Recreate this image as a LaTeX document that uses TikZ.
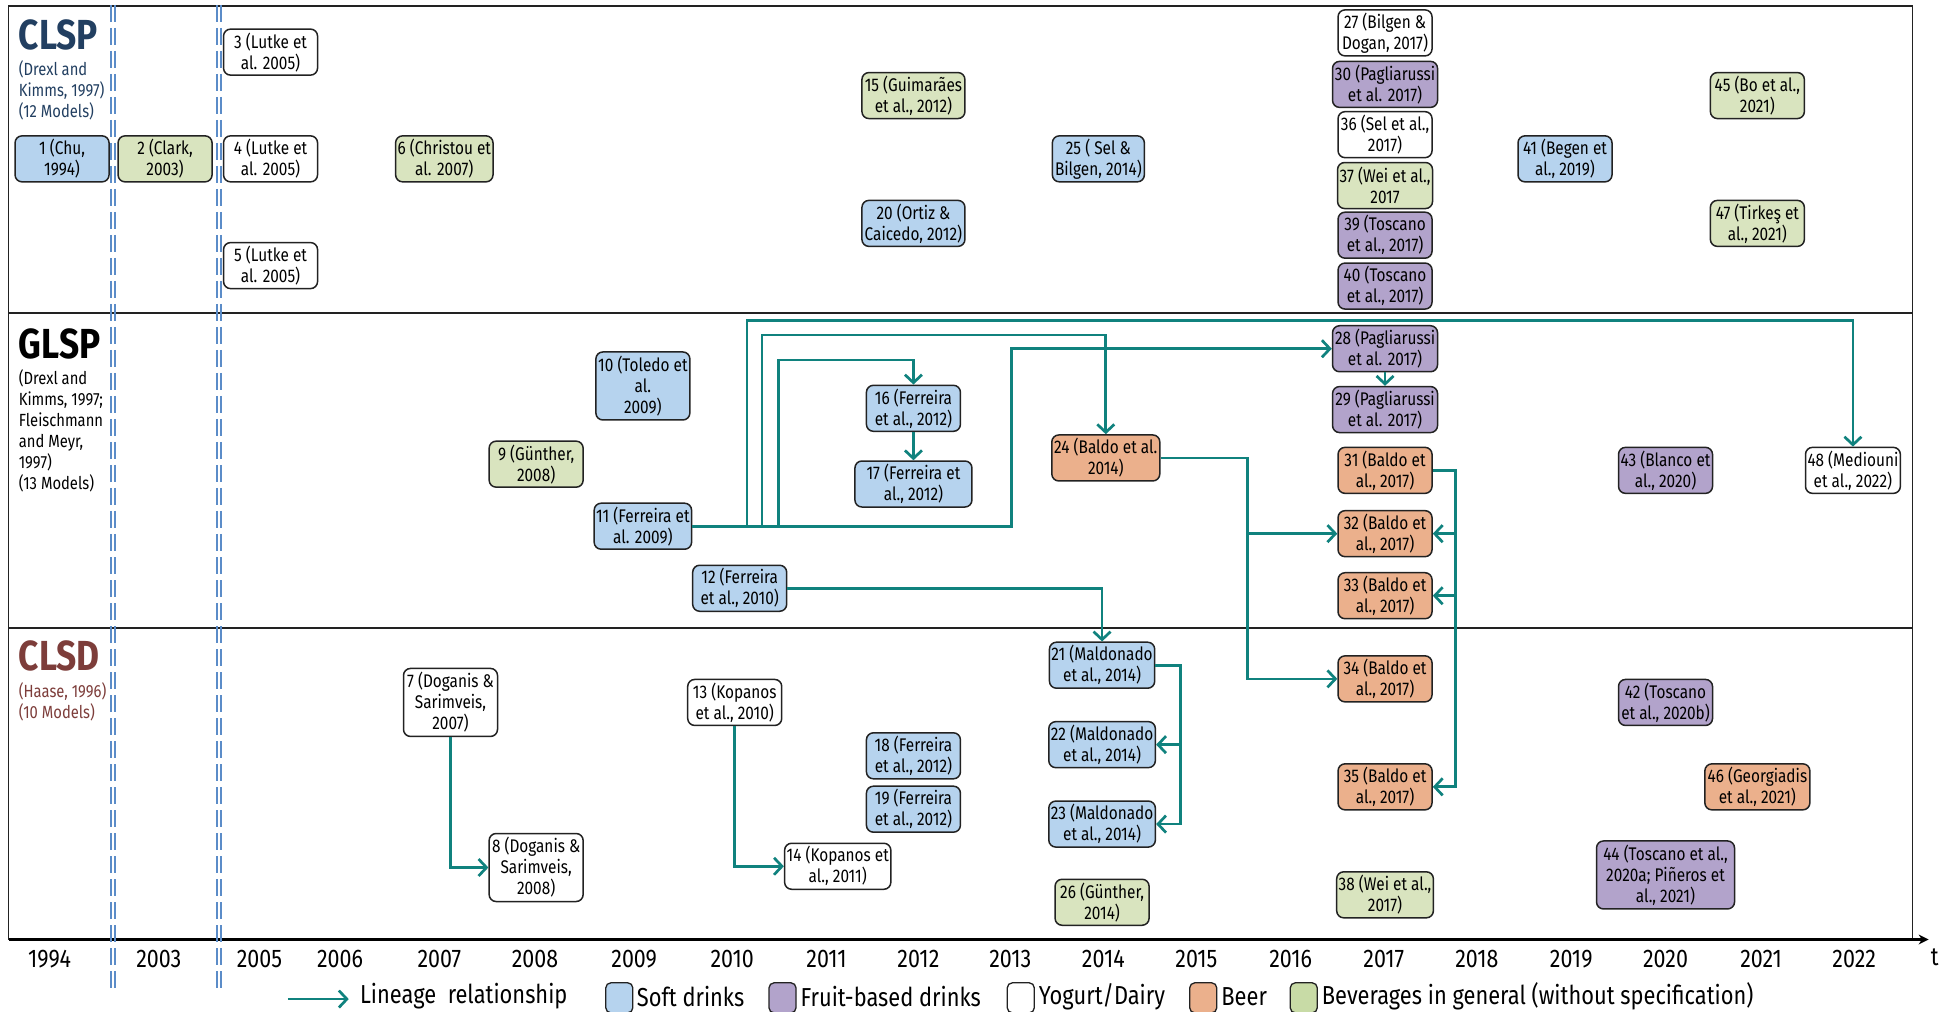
\documentclass[tikz,border=0pt]{standalone}
\usepackage{fontspec}
\setmainfont[FakeStretch=0.84]{Fira Sans}
\usetikzlibrary{arrows.meta}
\definecolor{softc}{HTML}{B6D3EE}
\definecolor{fruitc}{HTML}{B2A3CB}
\definecolor{beerc}{HTML}{EBB08C}
\definecolor{bevc}{HTML}{D9E4BF}
\definecolor{bevleg}{HTML}{C8DBA6}
\definecolor{linc}{HTML}{10827E}
\definecolor{dashc}{HTML}{5B8CC8}
\definecolor{clspc}{HTML}{223F61}
\definecolor{clsdc}{HTML}{7D3D3A}
\definecolor{framec}{HTML}{222222}
\begin{document}
\begin{tikzpicture}[x=1.241pt,y=-1.241pt,
  box/.style={draw=framec, line width=1.5pt, rounded corners=7pt, align=center, inner sep=2pt,
    minimum width=94pt, minimum height=46pt, font=\fontsize{18.3}{21}\selectfont},
  soft/.style={box, fill=softc},
  fruit/.style={box, fill=fruitc},
  dairy/.style={box, fill=white},
  beer/.style={box, fill=beerc},
  bev/.style={box, fill=bevc},
  wide/.style={minimum width=#1pt},
  tall/.style={minimum height=68pt},
  lin/.style={draw=linc, line width=2.7pt, -{Straight Barb[length=8pt,width=17pt]}},
  dl/.style={draw=dashc, line width=1.7pt, dash pattern=on 17pt off 6pt},
  frame/.style={draw=framec, line width=1.6pt},
  yr/.style={font=\fontsize{25.5}{27}\selectfont, inner sep=0pt},
  ttl/.style={font=\fontsize{42}{42}\selectfont\bfseries, inner sep=0pt, anchor=north west},
  sub/.style={font=\fontsize{17.6}{21}\selectfont, inner sep=0pt, anchor=north west, align=left},
  leg/.style={font=\fontsize{26}{28}\selectfont, inner sep=0pt, anchor=west},
  sw/.style={draw=framec, line width=1.3pt, rounded corners=5pt, minimum width=27pt, minimum height=30pt, inner sep=0pt}
]
\useasboundingbox (0,0) rectangle (1568,815);
\fill[white] (0,0) rectangle (1568,815);

% frame and lanes
\draw[frame] (7,5) rectangle (1541,757);
\draw[frame] (7,252) -- (1541,252);
\draw[frame] (7,506) -- (1541,506);
\draw[draw=black, line width=3.5pt, -{Stealth[length=10pt,width=10pt]}] (7,757) -- (1554,757);

% dashed double lines
\draw[dl] (89.2,4) -- (89.2,797);
\draw[dl] (92.6,4) -- (92.6,797);
\draw[dl] (174.8,4) -- (174.8,797);
\draw[dl] (178.2,4) -- (178.2,797);

% lane titles
\node[ttl, text=clspc] (tclsp) at (15,16) {CLSP};
\node[sub, text=clspc] (sclsp) at (15,49) {(Drexl and\\Kimms, 1997)\\(12 Models)};
\node[ttl, text=black] (tglsp) at (15,265) {GLSP};
\node[sub, text=black] (sglsp) at (15,298) {(Drexl and\\Kimms, 1997;\\Fleischmann\\and Meyr,\\1997)\\(13 Models)};
\node[ttl, text=clsdc] (tclsd) at (15,516) {CLSD};
\node[sub, text=clsdc] (sclsd) at (15,550) {(Haase, 1996)\\(10 Models)};

% CLSP nodes
\node[soft] (n1) at (50,128) {1 (Chu,\\1994)};
\node[bev] (n2) at (133,128) {2 (Clark,\\2003)};
\node[dairy] (n3) at (218,42) {3 (Lutke et\\al. 2005)};
\node[dairy] (n4) at (218,128) {4 (Lutke et\\al. 2005)};
\node[dairy] (n5) at (218,214) {5 (Lutke et\\al. 2005)};
\node[bev] (n6) at (358,128) {6 (Christou et\\al. 2007)};
\node[bev, wide=103] (n15) at (736,77) {15 (Guimarães\\et al., 2012)};
\node[soft, wide=103] (n20) at (736,180) {20 (Ortiz \&\\Caicedo, 2012)};
\node[soft, wide=92] (n25) at (885,128) {25 ( Sel \&\\Bilgen, 2014)};
\node[dairy] (n27) at (1116,26.5) {27 (Bilgen \&\\Dogan, 2017)};
\node[fruit, wide=105] (n30) at (1116,68) {30 (Pagliarussi\\et al. 2017)};
\node[dairy] (n36) at (1116,108.5) {36 (Sel et al.,\\2017)};
\node[bev] (n37) at (1116,149.5) {37 (Wei et al.,\\2017};
\node[fruit] (n39) at (1116,189.5) {39 (Toscano\\et al., 2017)};
\node[fruit] (n40) at (1116,230.5) {40 (Toscano\\et al., 2017)};
\node[soft] (n41) at (1261,128) {41 (Begen et\\al., 2019)};
\node[bev] (n45) at (1416,77) {45 (Bo et al.,\\2021)};
\node[bev] (n47) at (1416,180) {47 (Tirkeş et\\al., 2021)};

% GLSP nodes
\node[soft, tall] (n10) at (518,311) {10 (Toledo et\\al.\\2009)};
\node[bev] (n9) at (432,374) {9 (Günther,\\2008)};
\node[soft] (n11) at (518,424) {11 (Ferreira et\\al. 2009)};
\node[soft] (n12) at (596,474) {12 (Ferreira\\et al., 2010)};
\node[soft] (n16) at (736,329) {16 (Ferreira\\et al., 2012)};
\node[soft, wide=117] (n17) at (736,390) {17 (Ferreira et\\al., 2012)};
\node[beer, wide=108] (n24) at (891,369) {24 (Baldo et al.\\2014)};
\node[fruit, wide=105] (n28) at (1116,281) {28 (Pagliarussi\\et al. 2017)};
\node[fruit, wide=105] (n29) at (1116,330) {29 (Pagliarussi\\et al. 2017)};
\node[beer] (n31) at (1116,379) {31 (Baldo et\\al., 2017)};
\node[beer] (n32) at (1116,430) {32 (Baldo et\\al., 2017)};
\node[beer] (n33) at (1116,480) {33 (Baldo et\\al., 2017)};
\node[fruit] (n43) at (1342,379) {43 (Blanco et\\al., 2020)};
\node[dairy] (n48) at (1493,379) {48 (Mediouni\\et al., 2022)};

% CLSD nodes
\node[dairy, tall] (n7) at (363,566) {7 (Doganis \&\\Sarimveis,\\2007)};
\node[dairy, tall] (n8) at (432,699) {8 (Doganis \&\\Sarimveis,\\2008)};
\node[dairy] (n13) at (592,566) {13 (Kopanos\\et al., 2010)};
\node[dairy, wide=104] (n14) at (675,698) {14 (Kopanos et\\al., 2011)};
\node[soft] (n18) at (736,609) {18 (Ferreira\\et al., 2012)};
\node[soft] (n19) at (736,652) {19 (Ferreira\\et al., 2012)};
\node[soft, wide=105] (n21) at (888,536) {21 (Maldonado\\et al., 2014)};
\node[soft, wide=105] (n22) at (888,600) {22 (Maldonado\\et al., 2014)};
\node[soft, wide=105] (n23) at (888,664) {23 (Maldonado\\et al., 2014)};
\node[bev] (n26) at (888,727) {26 (Günther,\\2014)};
\node[beer] (n34) at (1116,547) {34 (Baldo et\\al., 2017)};
\node[beer] (n35) at (1116,634) {35 (Baldo et\\al., 2017)};
\node[bev] (n38) at (1116,721) {38 (Wei et al.,\\2017)};
\node[fruit] (n42) at (1342,566) {42 (Toscano\\et al., 2020b)};
\node[fruit, wide=138, tall] (n44) at (1342,705) {44 (Toscano et al.,\\2020a; Piñeros et\\al., 2021)};
\node[beer, wide=105] (n46) at (1416,634) {46 (Georgiadis\\et al., 2021)};

% lineage connectors
\draw[lin] (n11.east) -| (815,0 |- n28.west) -- (n28.west);
\coordinate (b1) at (602,0 |- n11.east);
\coordinate (b2) at (614,0 |- n11.east);
\coordinate (b3) at (627,0 |- n11.east);
\draw[lin] (b1) -- (602,258) -| (n48.north);
\draw[lin] (b2) -- (614,270) -| (n24.north);
\draw[lin] (b3) -- (627,290) -| (n16.north);
\draw[lin] (n16.south) -- (n17.north);
\draw[lin] (n28.south) -- (n29.north);
\draw[lin] (n12.east) -| (n21.north);
\draw[lin] (n24.east) -| (1005,0 |- n34.west) -- (n34.west);
\coordinate (b4) at (1005,0 |- n32.west);
\draw[lin] (b4) -- (n32.west);
\draw[lin] (n31.east) -| (1173,0 |- n35.east) -- (n35.east);
\coordinate (b5) at (1173,0 |- n32.east);
\coordinate (b6) at (1173,0 |- n33.east);
\draw[lin] (b5) -- (n32.east);
\draw[lin] (b6) -- (n33.east);
\draw[lin] (n21.east) -| (951,0 |- n23.east) -- (n23.east);
\coordinate (b7) at (951,0 |- n22.east);
\draw[lin] (b7) -- (n22.east);
\draw[lin] (n7.south) |- (n8.west);
\draw[lin] (n13.south) |- (n14.west);

% years
\node[yr] (y1994) at (40,773) {1994};
\node[yr] (y2003) at (128,773) {2003};
\node[yr] (y2005) at (209,773) {2005};
\node[yr] (y2006) at (274,773) {2006};
\node[yr] (y2007) at (354,773) {2007};
\node[yr] (y2008) at (431,773) {2008};
\node[yr] (y2009) at (511,773) {2009};
\node[yr] (y2010) at (590,773) {2010};
\node[yr] (y2011) at (666,773) {2011};
\node[yr] (y2012) at (740,773) {2012};
\node[yr] (y2013) at (814,773) {2013};
\node[yr] (y2014) at (889,773) {2014};
\node[yr] (y2015) at (964,773) {2015};
\node[yr] (y2016) at (1040,773) {2016};
\node[yr] (y2017) at (1115,773) {2017};
\node[yr] (y2018) at (1190,773) {2018};
\node[yr] (y2019) at (1266,773) {2019};
\node[yr] (y2020) at (1342,773) {2020};
\node[yr] (y2021) at (1419,773) {2021};
\node[yr] (y2022) at (1494,773) {2022};
\node[yr] (yt) at (1559,771) {t};

% legend
\coordinate (la) at (232,805);
\coordinate (lb) at (281,805);
\draw[lin] (la) -- (lb);
\node[leg] (l0) at (290,803) {Lineage~ relationship};
\node[sw, fill=softc] (s1) at (499,804) {};
\node[leg] (l1) at (513,803) {Soft drinks};
\node[sw, fill=fruitc] (s2) at (630.5,804) {};
\node[leg] (l2) at (645,803) {Fruit-based drinks};
\node[sw, fill=white] (s3) at (822.5,804) {};
\node[leg] (l3) at (837,803) {Yogurt/Dairy};
\node[sw, fill=beerc] (s4) at (969.5,804) {};
\node[leg] (l4) at (984,803) {Beer};
\node[sw, fill=bevleg] (s5) at (1050.5,804) {};
\node[leg] (l5) at (1065,803) {Beverages in general (without specification)};
\end{tikzpicture}
\end{document}
